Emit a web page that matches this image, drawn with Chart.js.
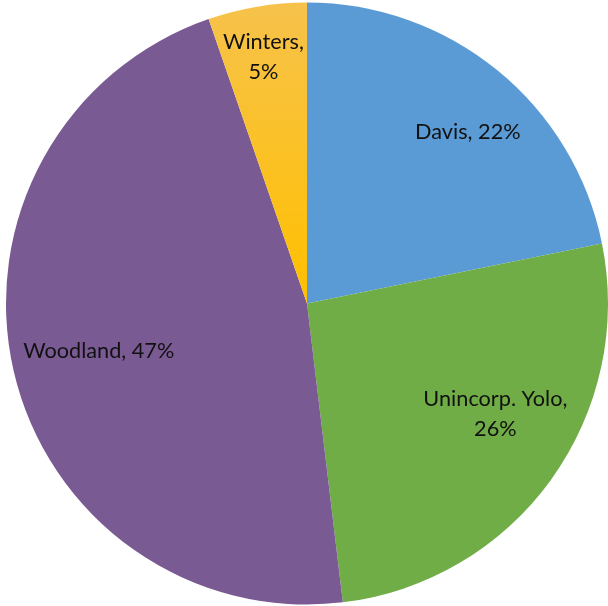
<!DOCTYPE html>
<html>
<head>
<meta charset="utf-8">
<script src="https://cdn.jsdelivr.net/npm/chart.js@4.4.0/dist/chart.umd.min.js"></script>
<style>
  body { margin: 0; background: #fff; }
  #pie { display: block; }
</style>
</head>
<body>
<canvas id="pie" width="608" height="606"></canvas>
<script>
const places = ["Davis", "Unincorp. Yolo", "Woodland", "Winters"];
const shares = [21.8, 26.3, 46.6, 5.3];
// how each label is written (line breaks as in the picture)
const labelLines = [["Davis, 22%"], ["Unincorp. Yolo,", "26%"], ["Woodland, 47%"], ["Winters,", "5%"]];

const ctx = document.getElementById("pie").getContext("2d");

const winterFill = ctx.createLinearGradient(0, 0, 0, 300);
winterFill.addColorStop(0, "#F6C24C");
winterFill.addColorStop(1, "#FFC000");

// label placement: fraction of radius and angle tweak (degrees)
const labelRadius = [0.78, 0.725, 0.71, 0.83];
const labelTurn = [4, -5.5, 0, -0.5];

const sliceLabels = {
  id: "sliceLabels",
  afterDatasetsDraw(chart) {
    const c = chart.ctx;
    const arcs = chart.getDatasetMeta(0).data;
    c.save();
    c.font = "21.7px Lato, 'Open Sans', sans-serif";
    c.fillStyle = "#111";
    c.textAlign = "center";
    c.textBaseline = "middle";
    arcs.forEach((arc, i) => {
      const mid = (arc.startAngle + arc.endAngle) / 2 + labelTurn[i] * Math.PI / 180;
      const r = arc.outerRadius * labelRadius[i];
      const x = arc.x + Math.cos(mid) * r;
      const y = arc.y + Math.sin(mid) * r;
      const lines = labelLines[i];
      const lh = 30;
      lines.forEach((t, k) => {
        c.fillText(t, x, y + (k - (lines.length - 1) / 2) * lh);
      });
    });
    c.restore();
  }
};

new Chart(ctx, {
  type: "pie",
  data: {
    labels: places,
    datasets: [{
      data: shares,
      backgroundColor: ["#5B9BD5", "#70AD47", "#7A5A93", winterFill],
      borderWidth: 0
    }]
  },
  options: {
    responsive: false,
    animation: false,
    layout: { padding: { left: 6, right: 0, top: 1, bottom: 0 } },
    plugins: {
      legend: { display: false },
      tooltip: { enabled: false }
    }
  },
  plugins: [sliceLabels]
});
</script>
</body>
</html>
